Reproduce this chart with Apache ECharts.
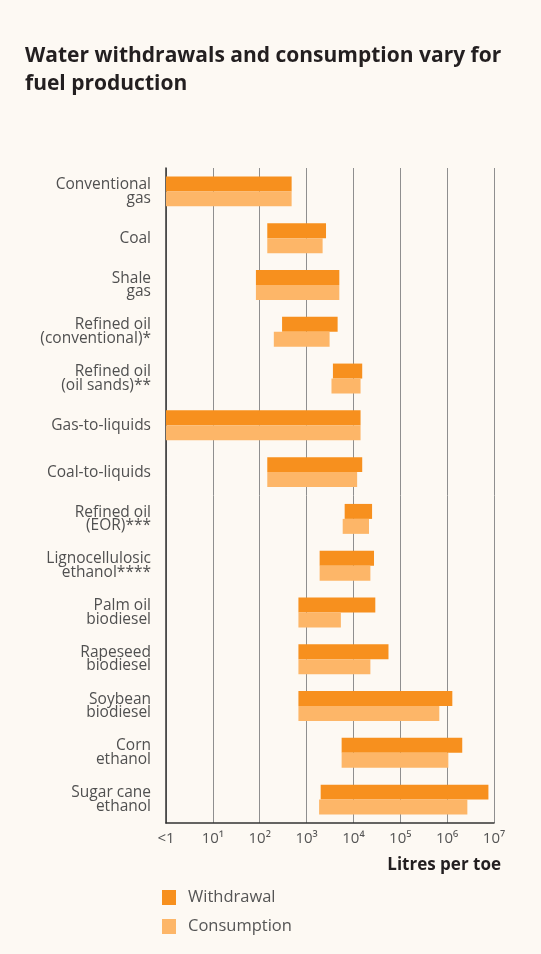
<!DOCTYPE html>
<html>
<head>
<meta charset="utf-8">
<script src="https://cdn.jsdelivr.net/npm/echarts@6/dist/echarts.min.js"></script>
<style>
  html, body { margin: 0; padding: 0; background: #fdf9f3; }
  #chart { width: 541px; height: 954px; }
</style>
</head>
<body>
<div id="chart"></div>
<script>
// Fuel types, top to bottom
const categories = [
  'Conventional\ngas',
  'Coal',
  'Shale\ngas',
  'Refined oil\n(conventional)*',
  'Refined oil\n(oil sands)**',
  'Gas-to-liquids',
  'Coal-to-liquids',
  'Refined oil\n(EOR)***',
  'Lignocellulosic\nethanol****',
  'Palm oil\nbiodiesel',
  'Rapeseed\nbiodiesel',
  'Soybean\nbiodiesel',
  'Corn\nethanol',
  'Sugar cane\nethanol'
];

// Ranges in litres per toe (low / high end of each range)
const withdrawalLow  = [1, 145, 83, 300, 3650, 1, 145, 6500, 1900, 670, 670, 670, 5600, 2000];
const withdrawalHigh = [480, 2600, 5000, 4600, 15400, 14200, 15400, 25000, 27500, 29300, 56000, 1290000, 2100000, 7600000];
const consumptionLow  = [1, 145, 83, 200, 3400, 1, 145, 5900, 1900, 670, 670, 670, 5600, 1850];
const consumptionHigh = [480, 2200, 5000, 3100, 14200, 14200, 12000, 21500, 23000, 5400, 23000, 680000, 1060000, 2700000];

// Tick labels for the log axis (1 .. 10^7)
const tickLabels = ['<1', '10¹', '10²', '10³', '10⁴', '10⁵', '10⁶', '10⁷'];

const seriesNames = ['Withdrawal', 'Consumption'];
const colors = ['#f7901e', '#fdb668'];

const labelFont = 'Open Sans';

function rangeData(lows, highs) {
  return categories.map((c, i) => [i, lows[i], highs[i]]);
}

// Draws a horizontal range bar; the two series sit above / below the band centre
function makeRender(side) {
  return function (params, api) {
    const idx = api.value(0);
    const start = api.coord([api.value(1), idx]);
    const end = api.coord([api.value(2), idx]);
    const band = api.size([0, 1])[1];
    const h = band * 0.32;
    const y = side === 0 ? start[1] - h : start[1];
    return {
      type: 'rect',
      shape: { x: start[0], y: y, width: end[0] - start[0], height: h },
      style: { fill: api.visual('color') }
    };
  };
}

const chart = echarts.init(document.getElementById('chart'), null, { renderer: 'canvas' });

chart.setOption({
  backgroundColor: '#fdf9f3',
  animation: false,
  title: {
    text: 'Water withdrawals and consumption vary for\nfuel production',
    left: 20,
    top: 37,
    textStyle: {
      fontFamily: 'Open Sans',
      fontWeight: 'bold',
      fontSize: 21,
      lineHeight: 28,
      color: '#231f20'
    }
  },
  legend: {
    orient: 'vertical',
    left: 157,
    top: 884,
    itemWidth: 14,
    itemHeight: 15,
    itemGap: 12,
    icon: 'rect',
    data: seriesNames,
    textStyle: {
      fontFamily: labelFont,
      fontSize: 16.5,
      color: '#555',
      padding: [0, 0, 0, 7]
    }
  },
  grid: { left: 166, right: 47, top: 168, bottom: 131 },
  xAxis: {
    type: 'log',
    logBase: 10,
    min: 1,
    max: 1e7,
    axisLine: { show: true, lineStyle: { color: '#333', width: 1.5 } },
    axisTick: { show: false },
    splitLine: { show: true, lineStyle: { color: '#8f8f8f', width: 1 } },
    axisLabel: {
      margin: 8,
      fontFamily: labelFont,
      fontSize: 15,
      color: '#555',
      formatter: function (v) {
        const e = Math.round(Math.log10(v));
        return tickLabels[e];
      }
    }
  },
  yAxis: {
    type: 'category',
    data: categories,
    inverse: true,
    axisLine: { show: true, lineStyle: { color: '#333', width: 1.5 } },
    axisTick: { show: false },
    splitLine: { show: false },
    axisLabel: {
      margin: 15,
      formatter: function (v) {
        return v.split('\n').map(s => '{r|' + s + '}').join('\n');
      },
      rich: {
        r: {
          align: 'right',
          fontFamily: labelFont,
          fontSize: 15.5,
          lineHeight: 13.5,
          color: '#505050'
        }
      }
    }
  },
  graphic: [{
    type: 'text',
    right: 40,
    top: 857,
    style: {
      text: 'Litres per toe',
      fontFamily: 'Open Sans',
      fontWeight: 'bold',
      fontSize: 17,
      fill: '#231f20'
    }
  }],
  series: [
    {
      name: seriesNames[0],
      type: 'custom',
      renderItem: makeRender(0),
      itemStyle: { color: colors[0] },
      encode: { x: [1, 2], y: 0 },
      data: rangeData(withdrawalLow, withdrawalHigh)
    },
    {
      name: seriesNames[1],
      type: 'custom',
      renderItem: makeRender(1),
      itemStyle: { color: colors[1] },
      encode: { x: [1, 2], y: 0 },
      data: rangeData(consumptionLow, consumptionHigh)
    }
  ]
});
</script>
</body>
</html>
